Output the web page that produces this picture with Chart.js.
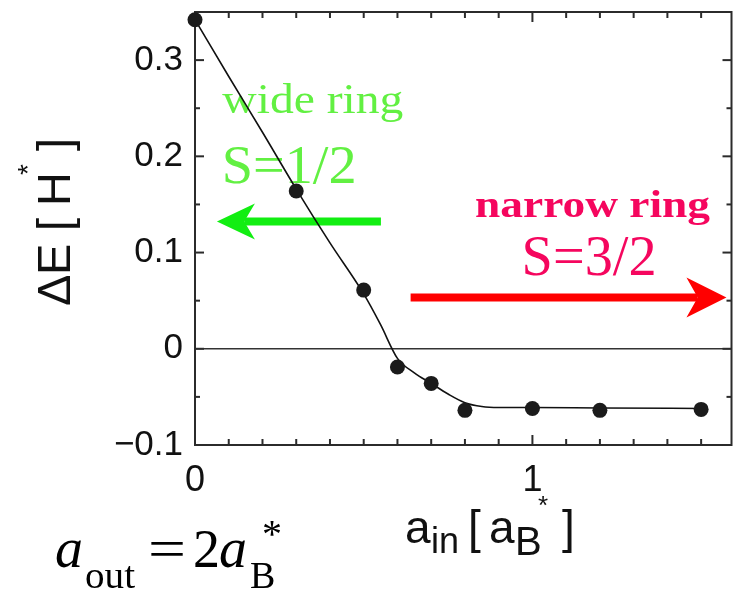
<!DOCTYPE html>
<html><head><meta charset="utf-8">
<script src="https://cdn.jsdelivr.net/npm/chart.js@4/dist/chart.umd.min.js"></script>
<style>html,body{margin:0;padding:0;background:#fff;}canvas{display:block;}</style>
</head><body>
<canvas id="c" width="739" height="594"></canvas>
<script>
// ---- data ----
const ainPoints = [0, 0.3, 0.5, 0.6, 0.7, 0.8, 1.0, 1.2, 1.5];
const deltaEPoints = [0.342, 0.164, 0.061, -0.019, -0.036, -0.064, -0.062, -0.064, -0.063];
const ainCurve = [0, 0.1, 0.2, 0.3, 0.4, 0.5, 0.55, 0.6, 0.65, 0.7, 0.75, 0.8, 0.85, 0.9, 1.0, 1.2, 1.5];
const deltaECurve = [0.342, 0.283, 0.225, 0.166, 0.110, 0.057, 0.025, -0.010, -0.025, -0.036, -0.047, -0.056, -0.060, -0.061, -0.061, -0.0615, -0.062];
const yTickLabels = {'-0.1': '\u22120.1', '0': '0', '0.1': '0.1', '0.2': '0.2', '0.3': '0.3'};
const xTickLabels = {'0': '0', '1': '1'};

const key = v => (Math.round(v * 100) / 100).toString();

function fitText(ctx, text, x, y, w, font, color) {
  ctx.save();
  ctx.font = font; ctx.fillStyle = color; ctx.textBaseline = 'alphabetic'; ctx.textAlign = 'left';
  const m = ctx.measureText(text).width;
  ctx.translate(x, y);
  if (w) ctx.scale(w / m, 1);
  ctx.fillText(text, 0, 0);
  ctx.restore();
}
function arrow(ctx, x0, x1, y, headLen, hw, th, color) {
  const d = Math.sign(x1 - x0);
  const notch = x1 - d * headLen * 0.72;
  ctx.save();
  ctx.fillStyle = color;
  ctx.beginPath();
  ctx.moveTo(x0, y - th / 2); ctx.lineTo(notch, y - th / 2);
  ctx.lineTo(notch, y + th / 2); ctx.lineTo(x0, y + th / 2); ctx.closePath(); ctx.fill();
  ctx.beginPath();
  ctx.moveTo(x1, y);
  ctx.lineTo(x1 - d * headLen, y - hw);
  ctx.quadraticCurveTo(x1 - d * headLen * 0.8, y - hw * 0.3, notch, y);
  ctx.quadraticCurveTo(x1 - d * headLen * 0.8, y + hw * 0.3, x1 - d * headLen, y + hw);
  ctx.closePath(); ctx.fill();
  ctx.restore();
}

const deco = {
  id: 'deco',
  beforeDraw(chart) {
    const c = chart.ctx; c.save(); c.fillStyle = '#fff'; c.fillRect(0, 0, chart.width, chart.height); c.restore();
  },
  beforeDatasetsDraw(chart) {
    const {ctx, chartArea: a, scales: {x, y}} = chart;
    const ln = (x0, y0, x1, y1) => { ctx.beginPath(); ctx.moveTo(x0, y0); ctx.lineTo(x1, y1); ctx.stroke(); };
    // annotations (under the curve)
    const gy = y.getPixelForValue(0.1323);
    arrow(ctx, x.getPixelForValue(0.551), x.getPixelForValue(0.065), gy, 38, 18, 8, '#12ee12');
    const ry = y.getPixelForValue(0.0534);
    arrow(ctx, x.getPixelForValue(0.639), x.getPixelForValue(1.575), ry, 40, 20, 8, '#ff0000');
    fitText(ctx, 'wide ring', x.getPixelForValue(0.081), y.getPixelForValue(0.2454), 181, '42px "Liberation Serif"', '#62f042');
    fitText(ctx, 'S=1/2', x.getPixelForValue(0.079), y.getPixelForValue(0.172), 135, '54px "Liberation Serif"', '#62f042');
    fitText(ctx, 'narrow ring', x.getPixelForValue(0.83), y.getPixelForValue(0.1373), 235, 'bold 38px "Liberation Serif"', '#f5065e');
    fitText(ctx, 'S=3/2', x.getPixelForValue(0.968), y.getPixelForValue(0.0767), 135, '57px "Liberation Serif"', '#f5065e');

    ctx.save();
    // zero line
    ctx.strokeStyle = '#333'; ctx.lineWidth = 1.5;
    const y0 = y.getPixelForValue(0);
    ln(a.left, y0, a.right, y0);
    // frame
    ctx.strokeStyle = '#2b2b2b'; ctx.lineWidth = 2;
    ctx.strokeRect(a.left, a.top, a.right - a.left, a.bottom - a.top);
    // inward ticks
    x.ticks.forEach(t => {
      const px = x.getPixelForValue(t.value);
      const L = Math.abs(t.value - Math.round(t.value)) < 1e-6 ? 10 : 6;
      ln(px, a.bottom, px, a.bottom - L);
      ln(px, a.top, px, a.top + L);
    });
    y.ticks.forEach(t => {
      const py = y.getPixelForValue(t.value);
      const major = Math.round(t.value * 100) % 10 === 0;
      const L = major ? 9 : 5;
      ln(a.left, py, a.left + L, py);
      ln(a.right, py, a.right - L, py);
    });
    ctx.restore();

    // y-axis title  ΔE [ H* ]
    ctx.save();
    ctx.fillStyle = '#111'; ctx.textBaseline = 'alphabetic';
    ctx.translate(70, 304); ctx.rotate(-Math.PI / 2);
    ctx.font = '47px "Liberation Sans"';
    ctx.fillText('\u0394', -2, 0);
    ctx.fillText('E', 29, 0);
    ctx.fillText('[', 73, 0);
    ctx.fillText('H', 98, 0);
    ctx.fillText(']', 153, 0);
    ctx.font = '28px "Liberation Sans"';
    ctx.fillText('*', 129, -33);
    ctx.restore();

    // x-axis title  a_in [ a_B* ]
    ctx.save();
    ctx.fillStyle = '#111'; ctx.textBaseline = 'alphabetic';
    ctx.font = '46px "Liberation Sans"';
    ctx.fillText('a', 405, 543);
    ctx.fillText('[', 468, 543);
    ctx.fillText('a', 489, 543);
    ctx.fillText(']', 562, 543);
    ctx.font = '36px "Liberation Sans"';
    ctx.fillText('in', 431, 553);
    ctx.font = '40px "Liberation Sans"';
    ctx.fillText('B', 515, 555);
    ctx.font = '26px "Liberation Sans"';
    ctx.fillText('*', 538, 514);
    ctx.restore();

    // formula  a_out = 2a_B*
    ctx.save();
    fitText(ctx, 'a', 55, 567, null, 'italic 56px "Liberation Serif"', '#000');
    fitText(ctx, 'out', 85, 588, 50, '38px "Liberation Serif"', '#000');
    fitText(ctx, '=', 148, 567, 38, '54px "Liberation Serif"', '#000');
    fitText(ctx, '2', 193, 567, null, '54px "Liberation Serif"', '#000');
    fitText(ctx, 'a', 219, 567, null, 'italic 56px "Liberation Serif"', '#000');
    fitText(ctx, 'B', 250, 588, null, '38px "Liberation Serif"', '#000');
    fitText(ctx, '*', 262, 547, null, '40px "Liberation Serif"', '#000');
    ctx.restore();
  }
};

new Chart(document.getElementById('c'), {
  type: 'scatter',
  data: {
    datasets: [
      {
        data: ainPoints.map((v, i) => ({x: v, y: deltaEPoints[i]})),
        showLine: false, pointRadius: 7.5, pointBackgroundColor: '#1b1b1b', pointBorderColor: '#1b1b1b',
        pointBorderWidth: 0, clip: false, order: 1
      },
      {
        data: ainCurve.map((v, i) => ({x: v, y: deltaECurve[i]})),
        showLine: true, pointRadius: 0, borderColor: '#111', borderWidth: 1.6,
        cubicInterpolationMode: 'monotone', fill: false, order: 2
      }
    ]
  },
  options: {
    responsive: false, animation: false, events: [],
    layout: {padding: {left: 0, right: 2, top: 12, bottom: 0}},
    plugins: {legend: {display: false}, tooltip: {enabled: false}},
    scales: {
      x: {
        type: 'linear', min: 0, max: 1.59,
        afterFit(s) { s.height = 149; s.paddingLeft = 0; s.paddingRight = 0; },
        grid: {display: false, drawTicks: false}, border: {display: false},
        ticks: {
          stepSize: 0.1, includeBounds: false, autoSkip: false, maxRotation: 0, padding: 14,
          color: '#111', font: {family: 'Liberation Sans', size: 36},
          callback: v => xTickLabels[key(v)] || ''
        }
      },
      y: {
        min: -0.1, max: 0.35,
        afterFit(s) { s.width = 195; s.paddingTop = 0; s.paddingBottom = 0; },
        grid: {display: false, drawTicks: false}, border: {display: false},
        ticks: {
          stepSize: 0.05, includeBounds: false, autoSkip: false, padding: 12,
          color: '#111', font: {family: 'Liberation Sans', size: 35},
          callback: v => yTickLabels[key(v)] || ''
        }
      }
    }
  },
  plugins: [deco]
});
</script>
</body></html>
